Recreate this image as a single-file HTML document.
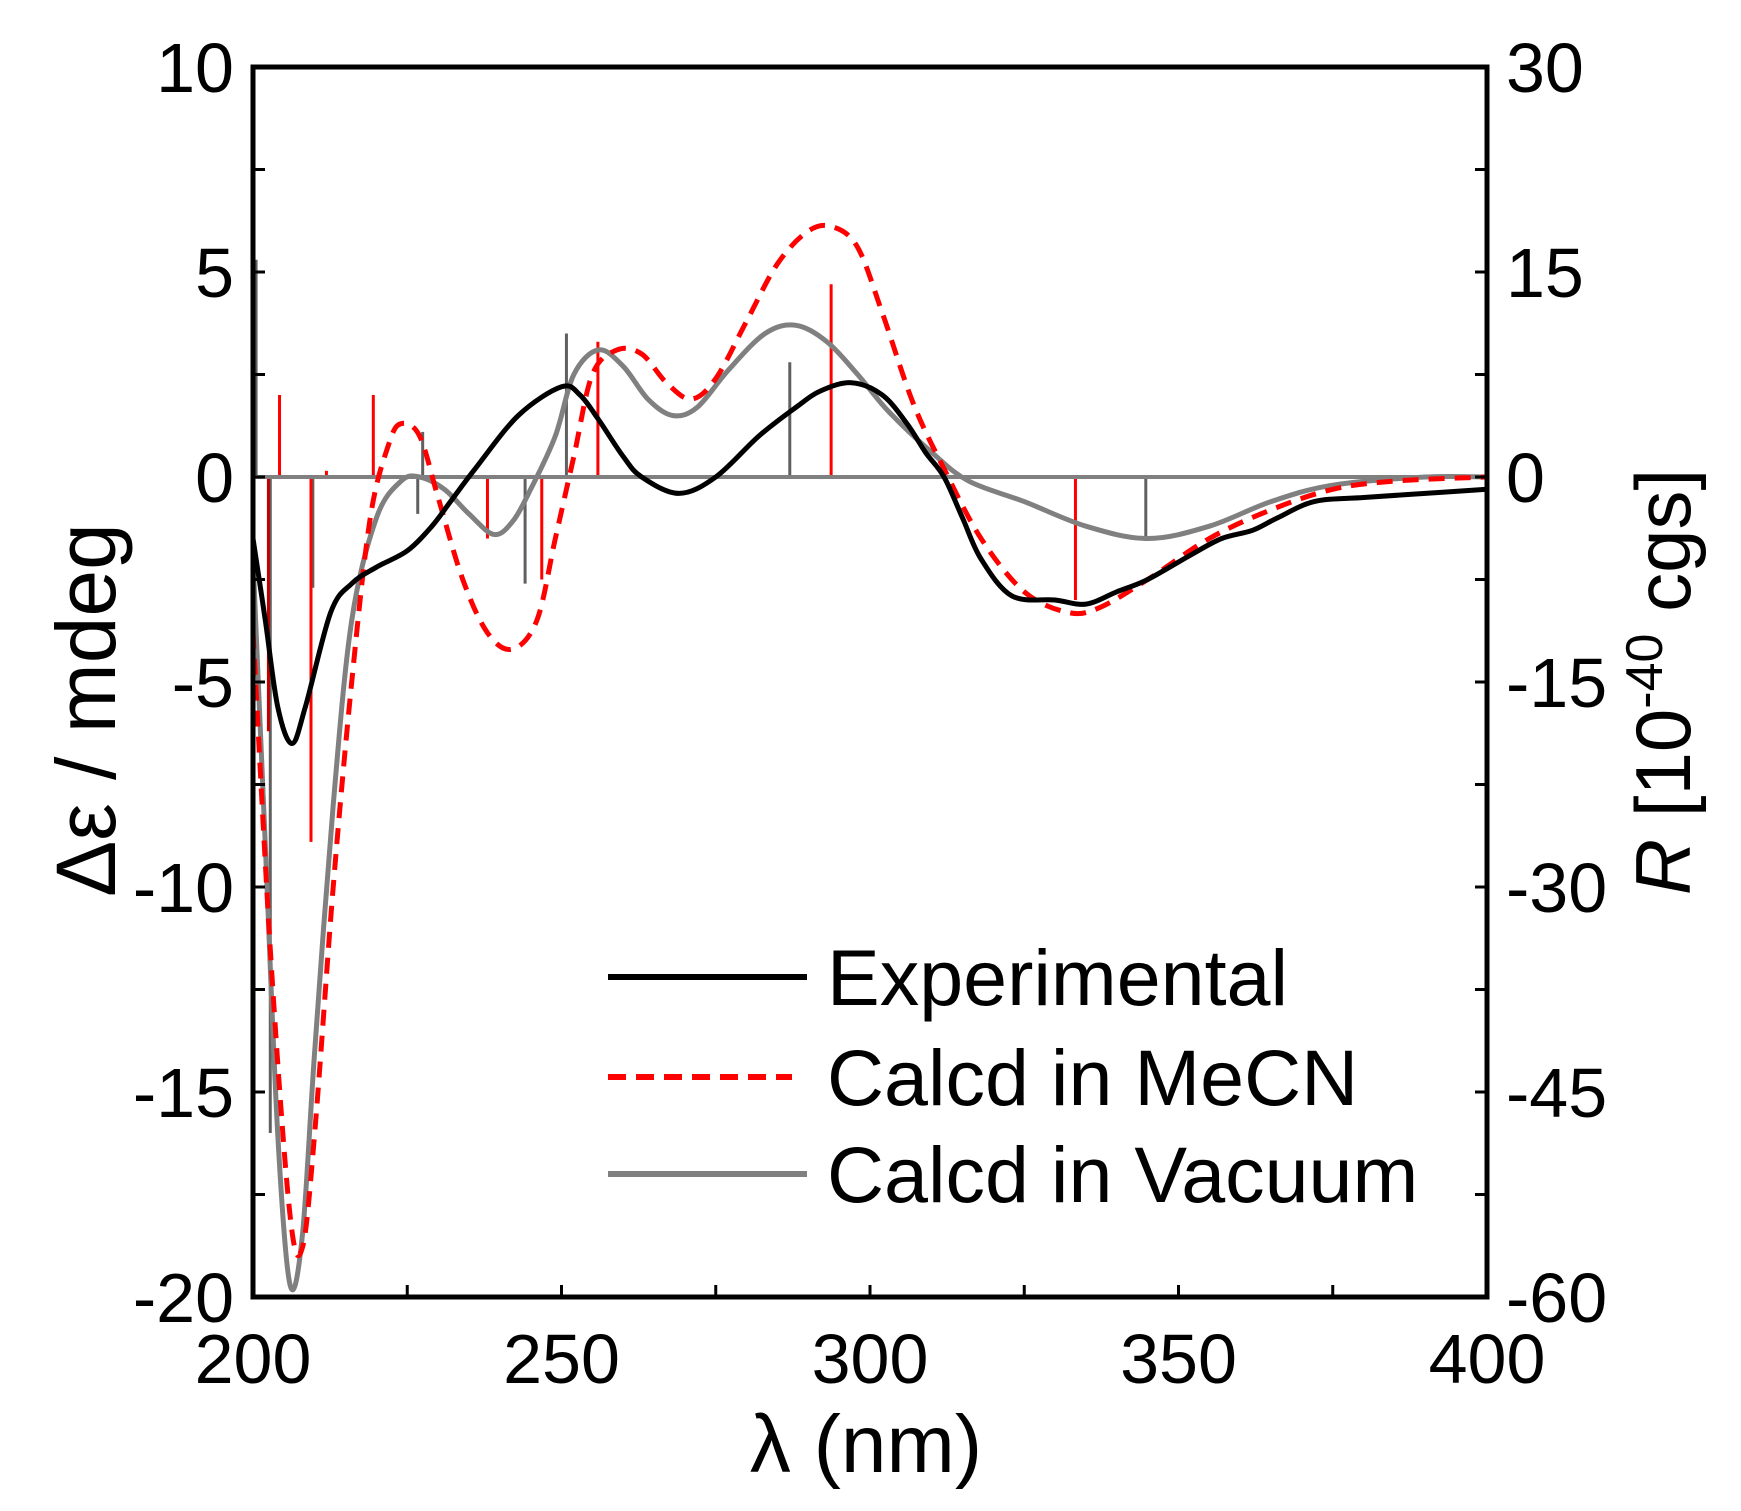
<!DOCTYPE html>
<html><head><meta charset="utf-8"><style>
html,body{margin:0;padding:0;background:#fff;}
svg{display:block;font-family:"Liberation Sans",sans-serif;}
</style></head><body>
<svg id="s" width="1741" height="1511" viewBox="0 0 1741 1511" xmlns="http://www.w3.org/2000/svg">
<g id="sticks"></g>
<line x1="253" y1="477" x2="1487" y2="477" stroke="#808080" stroke-width="4"/>
<g id="curves"></g>
<rect x="253" y="67" width="1234" height="1230" fill="none" stroke="#000" stroke-width="5"/>
<g id="ticks" stroke="#000" stroke-width="3"></g>
<g font-size="70" fill="#000">
<g text-anchor="end" id="ly"></g>
<g text-anchor="start" id="ry"></g>
<g text-anchor="middle" id="bx"></g>
</g>
<text x="866" y="1472" font-size="82" text-anchor="middle">λ (nm)</text>
<text transform="translate(115,710) rotate(-90)" font-size="84" text-anchor="middle">Δε / mdeg</text>
<text transform="translate(1690,682) rotate(-90)" font-size="78" text-anchor="middle"><tspan font-style="italic">R</tspan> [10<tspan font-size="52" dy="-28">-40</tspan><tspan dy="28"> cgs]</tspan></text>
<line x1="608" y1="977" x2="807" y2="977" stroke="#000" stroke-width="6"/>
<line x1="608" y1="1077" x2="792" y2="1077" stroke="#f00" stroke-width="6" stroke-dasharray="18,10"/>
<line x1="608" y1="1174" x2="807" y2="1174" stroke="#808080" stroke-width="6"/>
<g font-size="79" fill="#000">
<text x="827" y="1005">Experimental</text>
<text x="827" y="1105">Calcd in MeCN</text>
<text x="827" y="1202">Calcd in Vacuum</text>
</g>
</svg>
<script>
var NS="http://www.w3.org/2000/svg";
function X(l){return 253+(l-200)/200*1234;}
function Y(v){return 477-v*41;}
function el(p,t,a,txt){var e=document.createElementNS(NS,t);for(var k in a)e.setAttribute(k,a[k]);if(txt!=null)e.textContent=txt;document.getElementById(p).appendChild(e);}
function path(pts){var P=pts.map(function(p){return[X(p[0]),Y(p[1])];});var d="M"+P[0][0]+","+P[0][1];
for(var i=0;i<P.length-1;i++){var p0=P[i-1]||P[i],p1=P[i],p2=P[i+1],p3=P[i+2]||P[i+1];
d+=" C"+(p1[0]+(p2[0]-p0[0])/6)+","+(p1[1]+(p2[1]-p0[1])/6)+" "+(p2[0]-(p3[0]-p1[0])/6)+","+(p2[1]-(p3[1]-p1[1])/6)+" "+p2[0]+","+p2[1];}return d;}
var exp=[[200,-1.5],[202,-3.5],[204,-5.6],[206.3,-6.5],[208.5,-5.6],[212.6,-3.3],[216,-2.6],[220,-2.2],[225,-1.8],[229,-1.2],[232,-0.6],[236,0.2],[243,1.5],[250,2.2],[253,2.0],[256,1.4],[260,0.5],[263,0],[269,-0.4],[275,0],[282,1],[288,1.7],[292,2.1],[297,2.3],[302,2],[306,1.3],[309,0.6],[312,0],[315,-1],[318,-2],[323,-2.9],[330,-3.0],[335,-3.1],[340,-2.8],[345,-2.5],[352,-1.9],[357,-1.5],[362,-1.3],[366,-1.0],[372,-0.6],[380,-0.5],[390,-0.4],[400,-0.3]];
var red=[[200,-3.8],[203,-12],[206,-18],[208,-18.8],[210,-16],[213,-10],[216,-5],[219,-1],[222,0.8],[224,1.3],[227,1],[230,-0.5],[234,-2.5],[238,-3.8],[242,-4.2],[246,-3.5],[249,-1.5],[252,0.5],[255,2.5],[259,3.1],[263,3],[267,2.3],[271,1.9],[275,2.4],[280,3.8],[285,5.2],[290,6],[294,6.1],[298,5.6],[302,4],[307,1.8],[312,0.2],[318,-1.5],[325,-2.8],[332,-3.3],[337,-3.2],[345,-2.5],[355,-1.5],[365,-0.8],[375,-0.3],[385,-0.1],[400,0]];
var gray=[[200,-2],[202,-9],[204,-16],[206,-19.7],[208,-18.5],[210,-14],[213,-8],[216,-3.5],[220,-1],[224,-0.1],[227,0],[231,-0.3],[235,-0.9],[239,-1.4],[242,-1.1],[245,-0.3],[249,1],[252,2.5],[256,3.1],[260,2.7],[264,1.9],[268,1.5],[272,1.7],[277,2.6],[283,3.5],[288,3.7],[293,3.3],[298,2.5],[303,1.6],[310,0.6],[316,-0.1],[325,-0.6],[335,-1.2],[345,-1.5],[355,-1.2],[365,-0.6],[375,-0.2],[390,0],[400,0]];
var rs=[[202.5,-6.2,"#c00000"],[204.3,2.0,"#f00"],[209.4,-8.9,"#f00"],[211.9,0.15,"#f00"],[219.5,2.0,"#f00"],[238,-1.5,"#f00"],[246.8,-2.5,"#f00"],[255.9,3.3,"#f00"],[293.7,4.7,"#f00"],[333.3,-3.0,"#f00"]];
var gs=[[200.5,5.3],[202.8,-16],[209.7,-2.7],[226.7,-0.9],[227.5,1.1],[244.1,-2.6],[250.8,3.5],[287,2.8],[344.7,-1.5]];
gs.forEach(function(s){el("sticks","line",{x1:X(s[0]),x2:X(s[0]),y1:Y(0),y2:Y(s[1]),stroke:"#606060","stroke-width":3});});
rs.forEach(function(s){el("sticks","line",{x1:X(s[0]),x2:X(s[0]),y1:Y(0),y2:Y(s[1]),stroke:s[2],"stroke-width":3});});
el("curves","path",{d:path(gray),fill:"none",stroke:"#808080","stroke-width":5});
el("curves","path",{d:path(red),fill:"none",stroke:"#f00","stroke-width":5,"stroke-dasharray":"16,10"});
el("curves","path",{d:path(exp),fill:"none",stroke:"#000","stroke-width":5});
for(var v=-20;v<=10;v+=2.5){var y=Y(v);el("ticks","line",{x1:253,x2:265,y1:y,y2:y});el("ticks","line",{x1:1475,x2:1487,y1:y,y2:y});}
for(var l=225;l<400;l+=25){var x=X(l);el("ticks","line",{x1:x,x2:x,y1:1297,y2:1285});}
for(var v=-20;v<=10;v+=5){el("ly","text",{x:234,y:Y(v)+25},String(v));el("ry","text",{x:1506,y:Y(v)+25},String(v*3));}
for(var l=200;l<=400;l+=50){el("bx","text",{x:X(l),y:1383},String(l));}
</script>
</body></html>
